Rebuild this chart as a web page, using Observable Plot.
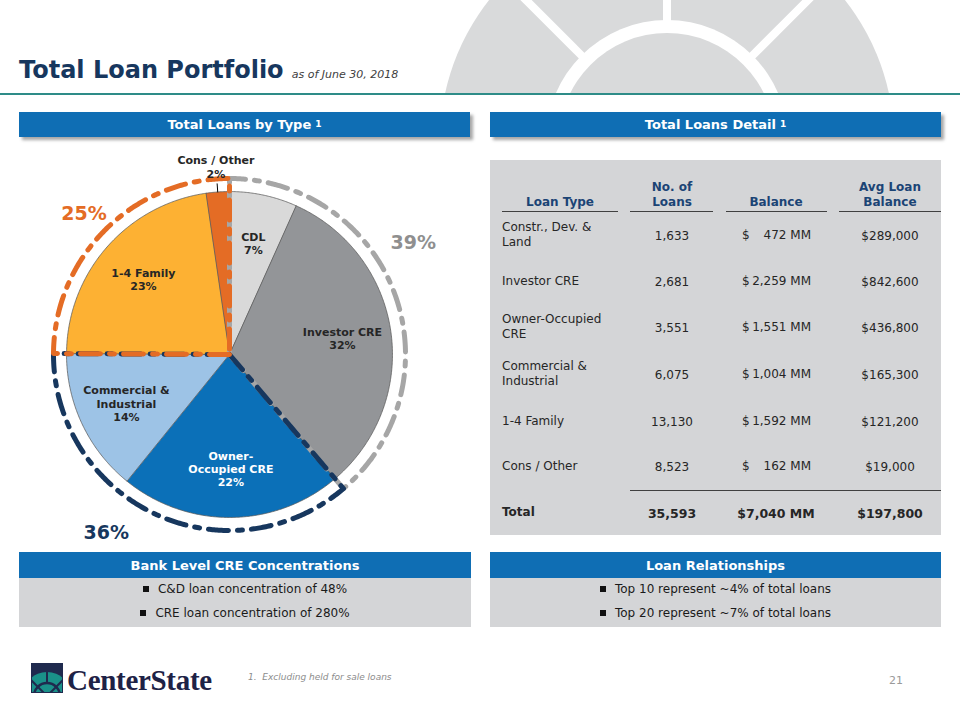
<!DOCTYPE html>
<html><head><meta charset="utf-8">
<script src="https://cdn.jsdelivr.net/npm/d3@7"></script>
<script src="https://cdn.jsdelivr.net/npm/@observablehq/plot@0.6"></script>
<style>
body{margin:0;width:960px;height:720px;position:relative;overflow:hidden;background:#fff;font-family:"DejaVu Sans",Verdana,sans-serif;color:#262626;}
.abs{position:absolute;}
.bar{position:absolute;height:25px;background:#0F6EB4;color:#fff;font-weight:bold;font-size:13px;display:flex;align-items:center;justify-content:center;box-shadow:3px 3px 3px rgba(0,0,0,0.35);}
.bar sup{font-size:9px;margin-left:4px;position:relative;top:-1px;}
.bar2{position:absolute;height:26px;background:#0F6EB4;color:#fff;font-weight:bold;font-size:13px;display:flex;align-items:center;justify-content:center;}
.body2{position:absolute;height:49px;background:#D4D5D7;}
.bl{position:absolute;left:0;right:0;text-align:center;font-size:12px;color:#1a1a1a;}
.bl i{display:inline-block;width:6px;height:6px;background:#111;margin-right:9px;position:relative;top:-1px;}
.t{position:absolute;white-space:pre;font-size:12px;line-height:15px;color:#262626;}
.h{position:absolute;white-space:pre;font-size:12px;line-height:15px;font-weight:bold;color:#1B4475;text-align:center;}
.rule{position:absolute;height:1.5px;background:#404040;}
</style></head>
<body>
<svg class="abs" style="left:0;top:0" width="960" height="93">
  <circle cx="667" cy="141" r="227" fill="#D9DADB"/>
  <circle cx="667" cy="141" r="121" fill="#fff"/>
  <circle cx="667" cy="141" r="108" fill="#D9DADB"/>
  <line x1="667" y1="-5" x2="667" y2="30" stroke="#fff" stroke-width="8"/>
  <line x1="586" y1="60" x2="483" y2="-43" stroke="#fff" stroke-width="8"/>
  <line x1="748" y1="60" x2="851" y2="-43" stroke="#fff" stroke-width="8"/>
</svg>
<div class="abs" style="left:19px;top:53px;white-space:nowrap;line-height:34px;">
  <span style="font-size:24px;font-weight:bold;color:#17375E;">Total Loan Portfolio</span>
  <span style="font-size:11px;font-style:italic;color:#404040;margin-left:3px;">as of June 30, 2018</span>
</div>
<div class="abs" style="left:0;top:93px;width:960px;height:2px;background:#2E8C88;"></div>

<div class="abs" id="pie" style="left:9px;top:134px;"></div>

<div class="bar" style="left:19px;top:112px;width:451px;">Total Loans by Type<sup>1</sup></div>
<div class="bar" style="left:490px;top:112px;width:451px;">Total Loans Detail<sup>1</sup></div>

<div class="abs" style="left:490px;top:160px;width:451px;height:375px;background:#D4D5D7;"></div>
<div id="table"></div>

<div class="bar2" style="left:19px;top:552px;width:452px;" id="h3">Bank Level CRE Concentrations</div>
<div class="body2" style="left:19px;top:578px;width:452px;" id="b3"></div>
<div class="bar2" style="left:490px;top:552px;width:451px;" id="h4">Loan Relationships</div>
<div class="body2" style="left:490px;top:578px;width:451px;" id="b4"></div>

<svg class="abs" style="left:31px;top:663px" width="32" height="30">
  <defs><clipPath id="lc"><rect x="1" y="8" width="30" height="21"/></clipPath></defs>
  <rect width="32" height="30" fill="#1F2A4E"/>
  <g clip-path="url(#lc)">
    <circle cx="16" cy="33" r="24" fill="#1A9189"/>
    <circle cx="16" cy="33" r="13" fill="none" stroke="#1F2A4E" stroke-width="2.5"/>
    <line x1="16" y1="0" x2="16" y2="20" stroke="#1F2A4E" stroke-width="2"/>
    <line x1="16" y1="33" x2="-6" y2="11" stroke="#1F2A4E" stroke-width="2"/>
    <line x1="16" y1="33" x2="38" y2="11" stroke="#1F2A4E" stroke-width="2"/>
  </g>
</svg>
<div class="abs" style="left:67px;top:664px;font-family:'Liberation Serif',serif;font-weight:bold;font-size:29px;line-height:32px;color:#1E2246;letter-spacing:-0.3px;">CenterState</div>
<div class="abs" style="left:248px;top:672px;font-size:9px;font-style:italic;color:#8C8C8C;white-space:pre;">1.  Excluding held for sale loans</div>
<div class="abs" style="left:889px;top:674px;font-size:11px;color:#9A9A9A;">21</div>

<script>
// ---------- data ----------
const sliceNames = ["CDL", "Investor CRE", "Owner-Occupied CRE", "Commercial & Industrial", "1-4 Family", "Cons / Other"];
const pieLabels = ["CDL", "Investor CRE", "Owner-\nOccupied CRE", "Commercial &\nIndustrial", "1-4 Family", "Cons / Other"];
const tableLoanTypes = ["Constr., Dev. &\nLand", "Investor CRE", "Owner-Occupied\nCRE", "Commercial &\nIndustrial", "1-4 Family", "Cons / Other"];
const loanCounts = [1633, 2681, 3551, 6075, 13130, 8523];
const balancesMM = [472, 2259, 1551, 1004, 1592, 162];
const avgLoanBalances = [289000, 842600, 436800, 165300, 121200, 19000];
const totalLoans = 35593;
const totalBalanceMM = 7040;
const totalAvgBalance = 197800;
const groupSlices = [[0, 1], [2, 3], [4, 5]];
const tableHeaders = ["Loan Type", "No. of\nLoans", "Balance", "Avg Loan\nBalance"];
const creBullets = ["C&D loan concentration of 48%", "CRE loan concentration of 280%"];
const relationshipBullets = ["Top 10 represent ~4% of total loans", "Top 20 represent ~7% of total loans"];

// ---------- styles ----------
const sliceColors = ["#D9D9D9", "#939598", "#0B70B8", "#9DC3E6", "#FDB133", "#E46C25"];
const sliceTextColors = ["#262626", "#262626", "#FFFFFF", "#262626", "#262626", "#262626"];
const groupColors = ["#A6A6A6", "#17375E", "#E46C25"];
const groupTextColors = ["#8F8F8F", "#17375E", "#E46C25"];
const groupLabelAt = [{t: 0.42, r: 1.32}, {t: 0.574, r: 1.33}, {t: 0.487, r: 1.24}];
const RING = 1.08;

// ---------- pie geometry ----------
const total = d3.sum(balancesMM);
let cum = 0;
const slices = balancesMM.map((v, i) => {
  const a0 = cum / total * 2 * Math.PI; cum += v;
  const a1 = cum / total * 2 * Math.PI;
  return {i, name: sliceNames[i], label: pieLabels[i], value: v, pct: Math.round(v / total * 100), a0, a1};
});
const pt = (a, r) => [r * Math.sin(a), -r * Math.cos(a)];
const arcPts = (a0, a1, r) => {
  const n = Math.max(2, Math.ceil((a1 - a0) / (Math.PI / 360)));
  return d3.range(n + 1).map(k => pt(a0 + (a1 - a0) * k / n, r));
};
const groups = groupSlices.map((idx, g) => {
  const a0 = slices[idx[0]].a0, a1 = slices[idx[idx.length - 1]].a1;
  const value = d3.sum(idx, i => balancesMM[i]);
  return {g, a0, a1, pct: Math.round(value / total * 100)};
});
const sliceLabelPos = d => d.i === slices.length - 1 ? pt((d.a0 + d.a1) / 2, 1.155) : pt((d.a0 + d.a1) / 2, 0.7);
const groupLabelPos = d => pt(d.a0 + (d.a1 - d.a0) * groupLabelAt[d.g].t, groupLabelAt[d.g].r);
const outside = slices.filter(d => d.i === slices.length - 1);

const chart = Plot.plot({
  width: 440, height: 440, margin: 0,
  projection: {type: "identity", domain: {type: "MultiPoint", coordinates: [[-1.35, -1.35], [1.35, 1.35]]}},
  marks: [
    Plot.geo(slices, {
      geometry: d => ({type: "Polygon", coordinates: [[[0, 0], ...arcPts(d.a0, d.a1, 1), [0, 0]]]}),
      fill: d => sliceColors[d.i], stroke: "#5A5A5A", strokeWidth: 0.75
    }),
    Plot.geo(groups, {
      geometry: d => ({type: "LineString", coordinates: [[0, 0], ...arcPts(d.a0, d.a1, RING), [0, 0]]}),
      fill: "none", stroke: d => groupColors[d.g], strokeWidth: 5, strokeDasharray: "20,9,5,9"
    }),
    Plot.geo(outside, {
      geometry: d => ({type: "LineString", coordinates: [pt((d.a0 + d.a1) / 2, 1.0), pt((d.a0 + d.a1) / 2, 1.05)]}),
      fill: "none", stroke: "#000", strokeWidth: 1
    }),
    Plot.text(slices, {
      x: d => sliceLabelPos(d)[0], y: d => sliceLabelPos(d)[1],
      text: d => `${d.label}\n${d.pct}%`, fill: d => sliceTextColors[d.i],
      fontWeight: "bold", fontSize: 11, fontFamily: "DejaVu Sans", lineHeight: 1.2
    }),
    Plot.text(groups, {
      x: d => groupLabelPos(d)[0], y: d => groupLabelPos(d)[1],
      text: d => `${d.pct}%`, fill: d => groupTextColors[d.g],
      fontWeight: "bold", fontSize: 19, fontFamily: "DejaVu Sans"
    })
  ]
});
document.getElementById("pie").appendChild(chart);

// ---------- table ----------
function put(text, x, y, cls, anchor, extra) {
  const el = document.createElement("div");
  el.className = cls; el.textContent = text;
  el.style.left = x + "px"; el.style.top = y + "px";
  const tx = anchor === "start" ? "0" : anchor === "end" ? "-100%" : "-50%";
  el.style.transform = `translate(${tx}, ${extra || "-50%"})`;
  document.body.appendChild(el);
  return el;
}
const fmt = d3.format(",");
const headerX = [560, 672, 776, 890];
tableHeaders.forEach((h, j) => put(h, headerX[j], 210, "h", "middle", "-100%"));
[[502, 618], [630, 713], [726, 827], [839, 941]].forEach(([a, b]) => {
  const r = document.createElement("div"); r.className = "rule";
  r.style.left = a + "px"; r.style.width = (b - a) + "px"; r.style.top = "210.5px";
  document.body.appendChild(r);
});
const rowY = [235, 281, 327, 374, 421, 466];
tableLoanTypes.forEach((lt, i) => {
  const y = rowY[i];
  put(lt, 502, y, "t", "start");
  put(fmt(loanCounts[i]), 672, y + 1, "t", "middle");
  put("$", 742, y, "t", "start");
  put(`${fmt(balancesMM[i])} MM`, 811, y, "t", "end");
  put(`$${fmt(avgLoanBalances[i])}`, 890, y + 1, "t", "middle");
});
{
  const r = document.createElement("div"); r.className = "rule";
  r.style.left = "630px"; r.style.width = "311px"; r.style.top = "489.5px";
  document.body.appendChild(r);
}
const totY = 512;
put("Total", 502, totY, "t", "start").style.fontWeight = "bold";
[[fmt(totalLoans), 672], [`$${fmt(totalBalanceMM)} MM`, 776], [`$${fmt(totalAvgBalance)}`, 890]].forEach(([s, x]) => {
  const e = put(s, x, totY + 1, "t", "middle"); e.style.fontWeight = "bold"; e.style.fontSize = "12.5px";
});

// ---------- bullet boxes ----------
function bullets(id, items) {
  const box = document.getElementById(id);
  items.forEach((s, k) => {
    const d = document.createElement("div"); d.className = "bl";
    d.style.top = (4 + k * 24) + "px";
    d.innerHTML = "<i></i>"; d.appendChild(document.createTextNode(s));
    box.appendChild(d);
  });
}
bullets("b3", creBullets);
bullets("b4", relationshipBullets);
</script>
</body></html>
